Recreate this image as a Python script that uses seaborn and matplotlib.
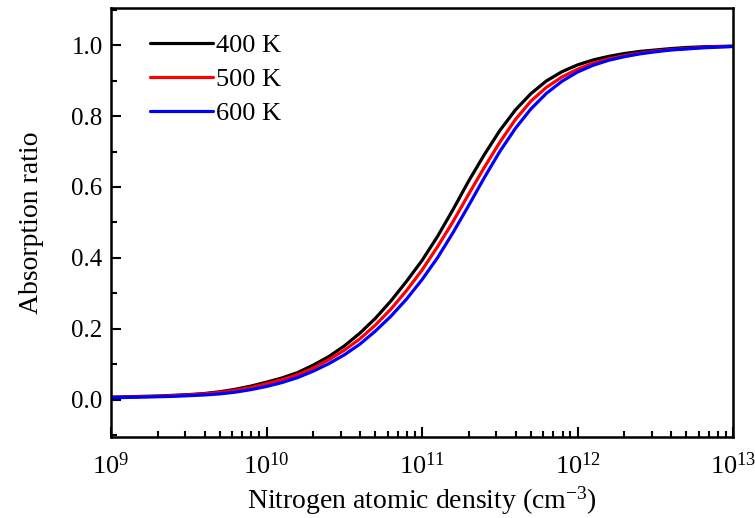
import numpy as np
import pandas as pd
import matplotlib
matplotlib.use("Agg")
import matplotlib.pyplot as plt
import seaborn as sns
from matplotlib.ticker import MultipleLocator, LogLocator, NullFormatter, FormatStrFormatter

# log10 of nitrogen atomic density (cm^-3)
log_density = [9.0, 9.1, 9.2, 9.3, 9.4, 9.5, 9.6, 9.7, 9.8, 9.9,
               10.0, 10.1, 10.2, 10.3, 10.4, 10.5, 10.6, 10.7, 10.8, 10.9,
               11.0, 11.1, 11.2, 11.3, 11.4, 11.5, 11.6, 11.7, 11.8, 11.9,
               12.0, 12.1, 12.2, 12.3, 12.4, 12.5, 12.6, 12.7, 12.8, 12.9, 13.0]

# absorption ratio
ratio_400 = [0.008, 0.009, 0.010, 0.011, 0.013, 0.015, 0.018, 0.023, 0.030, 0.039,
             0.050, 0.062, 0.077, 0.098, 0.122, 0.152, 0.188, 0.230, 0.279, 0.334,
             0.393, 0.461, 0.537, 0.617, 0.691, 0.759, 0.817, 0.863, 0.899, 0.925,
             0.944, 0.958, 0.968, 0.976, 0.982, 0.986, 0.990, 0.993, 0.995, 0.996, 0.997]
ratio_500 = [0.007, 0.008, 0.009, 0.010, 0.012, 0.014, 0.017, 0.021, 0.027, 0.035,
             0.046, 0.057, 0.071, 0.090, 0.113, 0.140, 0.172, 0.211, 0.256, 0.308,
             0.366, 0.432, 0.503, 0.580, 0.655, 0.726, 0.790, 0.842, 0.881, 0.910,
             0.932, 0.949, 0.961, 0.970, 0.977, 0.983, 0.987, 0.990, 0.993, 0.995, 0.996]
ratio_600 = [0.006, 0.007, 0.008, 0.009, 0.010, 0.012, 0.014, 0.017, 0.022, 0.029,
             0.038, 0.049, 0.063, 0.081, 0.102, 0.127, 0.157, 0.194, 0.236, 0.284,
             0.339, 0.401, 0.472, 0.548, 0.626, 0.700, 0.765, 0.820, 0.864, 0.898,
             0.924, 0.943, 0.957, 0.967, 0.975, 0.981, 0.986, 0.989, 0.992, 0.994, 0.996]

labels = ["400 K", "500 K", "600 K"]
colors = ["black", "red", "blue"]

density = [10 ** v for v in log_density]
df = pd.concat([
    pd.DataFrame({"density": density, "ratio": r, "T": lab})
    for r, lab in zip([ratio_400, ratio_500, ratio_600], labels)
])

sns.set_style("ticks", {"axes.edgecolor": "black", "text.color": "black",
                        "xtick.color": "black", "ytick.color": "black",
                        "axes.labelcolor": "black"})
plt.rcParams["font.family"] = ["Liberation Serif", "DejaVu Serif"]
plt.rcParams["mathtext.fontset"] = "custom"
plt.rcParams["mathtext.rm"] = "Liberation Serif"
plt.rcParams["mathtext.it"] = "Liberation Serif:italic"

fig = plt.figure(figsize=(7.55, 5.18), dpi=100)
ax = fig.add_axes([0.147, 0.156, 0.824, 0.829])

sns.lineplot(data=df, x="density", y="ratio", hue="T", palette=colors,
             linewidth=2.3, ax=ax)

ax.set_xscale("log")
ax.set_xlim(1e9, 1e13)
ax.set_ylim(-0.105, 1.105)
ax.yaxis.set_major_locator(MultipleLocator(0.2))
ax.yaxis.set_minor_locator(MultipleLocator(0.1))
ax.xaxis.set_major_locator(LogLocator(base=10, numticks=10))
ax.xaxis.set_minor_locator(LogLocator(base=10, subs=np.arange(2, 10), numticks=20))
ax.xaxis.set_minor_formatter(NullFormatter())
ax.yaxis.set_major_formatter(FormatStrFormatter("%.1f"))

ax.tick_params(which="both", direction="in", width=1.5, top=False, right=False,
               color="black", labelcolor="black")
ax.tick_params(which="major", length=7.5, labelsize=18)
ax.tick_params(which="minor", length=4)
ax.tick_params(axis="y", which="major", pad=6)
ax.tick_params(axis="x", which="major", pad=11, labelsize=19)
for s in ax.spines.values():
    s.set_linewidth(1.8)
    s.set_color("black")
    s.set_visible(True)

ax.set_xlabel("Nitrogen atomic density (cm$^{-3}$)", fontsize=20, labelpad=4, color="black")
ax.set_ylabel("Absorption ratio", fontsize=20, labelpad=20, color="black")

leg = ax.legend(loc="upper left", bbox_to_anchor=(0.046, 0.965), frameon=False, fontsize=19,
                handlelength=2.4, handletextpad=0.1, labelspacing=0.4, borderaxespad=0)
for t in leg.get_texts():
    t.set_color("black")

fig.savefig("out.png", dpi=100)
